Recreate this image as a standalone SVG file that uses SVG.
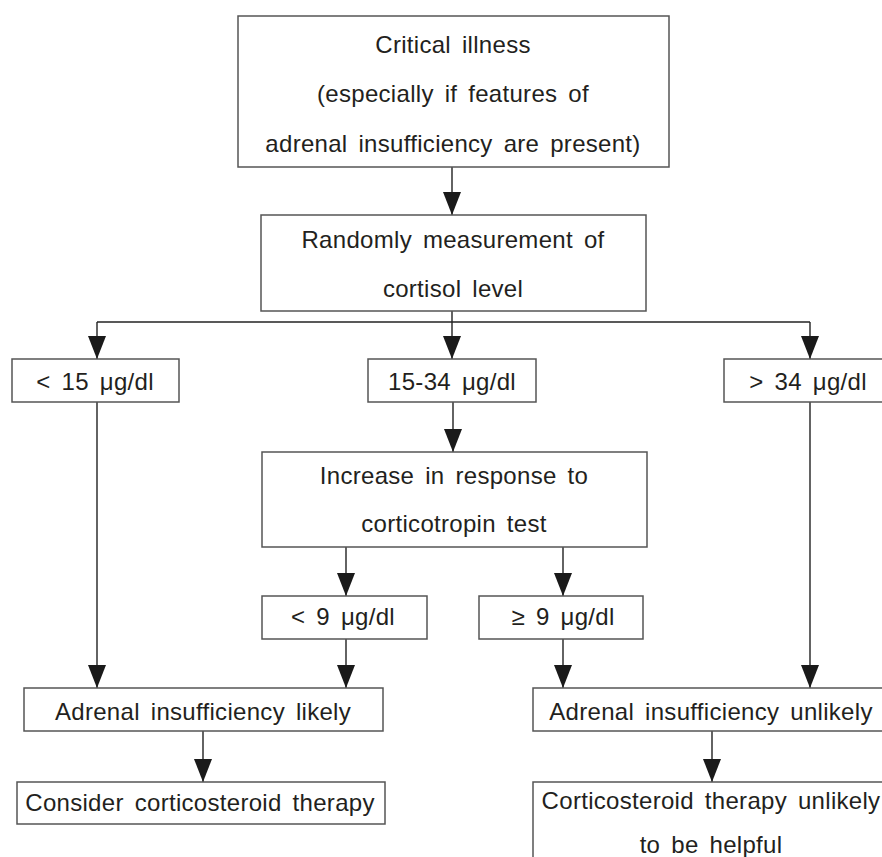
<svg xmlns="http://www.w3.org/2000/svg" width="882" height="857" viewBox="0 0 882 857">
<defs>
<marker id="ah" viewBox="0 0 23 18" refX="23" refY="9" markerWidth="23" markerHeight="18" markerUnits="userSpaceOnUse" orient="auto">
<path d="M0,0 L23,9 L0,18 Z" fill="#1a1a1a"/>
</marker>
</defs>
<style>
.box{fill:#fff;stroke:#555;stroke-width:1.5}
.t{font-family:"Liberation Sans",Arial,sans-serif;font-size:24px;fill:#231f20;text-anchor:middle;letter-spacing:0.3px;word-spacing:4px}
.c{fill:none;stroke:#222;stroke-width:1.4}
.a{marker-end:url(#ah)}
</style>
<rect width="882" height="857" fill="#fff"/>
<g id="connectors">
<path class="c a" d="M452,167 V215"/>
<path class="c" d="M97,322 H810"/>
<path class="c a" d="M452,311 V359"/>
<path class="c a" d="M97,322 V359"/>
<path class="c a" d="M810,322 V359"/>
<path class="c a" d="M453,402 V452"/>
<path class="c a" d="M97,402 V688"/>
<path class="c a" d="M346,547 V596"/>
<path class="c a" d="M563,547 V596"/>
<path class="c a" d="M346,639 V688"/>
<path class="c a" d="M563,639 V688"/>
<path class="c a" d="M810,402 V688"/>
<path class="c a" d="M203,731 V782"/>
<path class="c a" d="M712,731 V782"/>
</g>
<g id="critical">
<rect class="box" x="238" y="16" width="431" height="151"/>
<text class="t" x="453" y="53">Critical illness</text>
<text class="t" x="453" y="102">(especially if features of</text>
<text class="t" x="453" y="152">adrenal insufficiency are present)</text>
</g>
<g id="measure">
<rect class="box" x="261" y="215" width="385" height="96"/>
<text class="t" x="453" y="248">Randomly measurement of</text>
<text class="t" x="453" y="297">cortisol level</text>
</g>
<g id="lt15">
<rect class="box" x="12" y="359" width="167" height="43"/>
<text class="t" x="95" y="390">&lt; 15 μg/dl</text>
</g>
<g id="mid">
<rect class="box" x="368" y="359" width="168" height="43"/>
<text class="t" x="452" y="390">15-34 μg/dl</text>
</g>
<g id="gt34">
<rect class="box" x="724" y="359" width="170" height="43"/>
<text class="t" x="808" y="390">&gt; 34 μg/dl</text>
</g>
<g id="increase">
<rect class="box" x="262" y="452" width="385" height="95"/>
<text class="t" x="454" y="484">Increase in response to</text>
<text class="t" x="454" y="532">corticotropin test</text>
</g>
<g id="lt9">
<rect class="box" x="262" y="596" width="165" height="43"/>
<text class="t" x="343" y="625">&lt; 9 μg/dl</text>
</g>
<g id="ge9">
<rect class="box" x="479" y="596" width="164" height="43"/>
<text class="t" x="563" y="625">≥ 9 μg/dl</text>
</g>
<g id="likely">
<rect class="box" x="24" y="688" width="359" height="43"/>
<text class="t" x="203" y="720">Adrenal insufficiency likely</text>
</g>
<g id="unlikely">
<rect class="box" x="533" y="688" width="360" height="43"/>
<text class="t" x="711" y="720">Adrenal insufficiency unlikely</text>
</g>
<g id="consider">
<rect class="box" x="17" y="782" width="368" height="42"/>
<text class="t" x="200" y="811">Consider corticosteroid therapy</text>
</g>
<g id="cortico">
<rect class="box" x="533" y="782" width="360" height="120"/>
<text class="t" x="711" y="809">Corticosteroid therapy unlikely</text>
<text class="t" x="711" y="853">to be helpful</text>
</g>
</svg>
